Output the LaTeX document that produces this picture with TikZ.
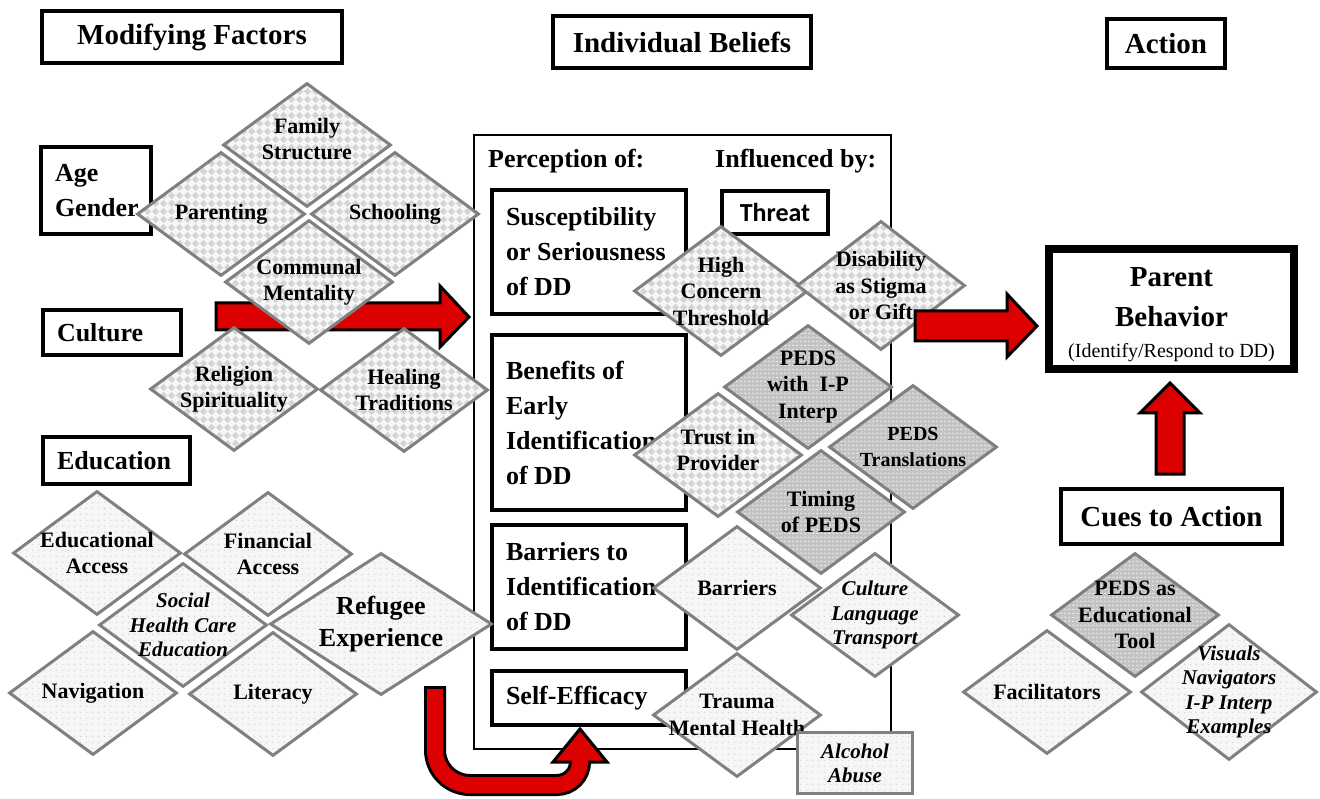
\documentclass[tikz,border=0pt]{standalone}
\usepackage{fontspec}
\setmainfont{Liberation Serif}
\newfontfamily\calfont{Carlito}
\usetikzlibrary{shapes.geometric,patterns.meta}

\definecolor{arrred}{RGB}{221,0,0}
\definecolor{chkfg}{RGB}{212,212,212}
\definecolor{chkbg}{RGB}{246,246,246}
\definecolor{dotbg}{RGB}{246,246,246}
\definecolor{darkbg}{RGB}{195,195,195}

\tikzdeclarepattern{
  name=checkgray, type=colored,
  bottom left={(0pt,0pt)}, top right={(8pt,8pt)},
  tile size={(8pt,8pt)},
  code={
    \fill[chkbg] (0pt,0pt) rectangle (8pt,8pt);
    \fill[chkfg] (4pt,0pt) -- (8pt,4pt) -- (4pt,8pt) -- (0pt,4pt) -- cycle;
  }
}
\tikzdeclarepattern{
  name=dotlight, type=colored,
  bottom left={(0pt,0pt)}, top right={(6pt,6pt)},
  tile size={(6pt,6pt)},
  code={
    \fill[dotbg] (0pt,0pt) rectangle (6pt,6pt);
    \fill[gray!35] (3pt,3pt) circle[radius=0.8pt];
  }
}
\tikzdeclarepattern{
  name=dotdark, type=colored,
  bottom left={(0pt,0pt)}, top right={(4pt,4pt)},
  tile size={(4pt,4pt)},
  code={
    \fill[darkbg] (0pt,0pt) rectangle (4pt,4pt);
    \fill[white!85!gray] (0.5pt,1.5pt) rectangle (2.7pt,2.6pt);
  }
}

\tikzset{
  hbox/.style={draw, line width=4pt, inner sep=0pt, font=\fontsize{29}{33}\selectfont\bfseries},
  lbox/.style={draw, line width=4pt, inner xsep=14pt, inner ysep=0pt, align=flush left, font=\fontsize{26}{35}\selectfont\bfseries},
  dia/.style={diamond, draw=gray, line width=3pt, minimum width=168pt, minimum height=124pt, inner sep=0pt},
  dchk/.style={dia, preaction={fill=chkbg}, pattern=checkgray},
  ddot/.style={dia, preaction={fill=dotbg}, pattern=dotlight},
  ddark/.style={dia, preaction={fill=darkbg}, pattern=dotdark},
  dtxt/.style={align=center, font=\fontsize{22}{26.5}\selectfont\bfseries},
  ditx/.style={align=center, font=\fontsize{21}{24.5}\selectfont\bfseries\itshape},
  dbig/.style={align=center, font=\fontsize{26}{32}\selectfont\bfseries},
  redarrow/.style={fill=arrred, draw=black, line width=3pt, line join=miter},
}

\begin{document}
\begin{tikzpicture}[x=1pt, y=-1pt]
\useasboundingbox (0,0) rectangle (1320,799);

% headings
\node[hbox, minimum width=300pt, minimum height=52pt] (hMod) at (192,37) {Modifying Factors};
\node[hbox, minimum width=258pt, minimum height=52pt] (hInd) at (682,42) {Individual Beliefs};
\node[hbox, minimum width=118pt, minimum height=49pt] (hAct) at (1166,43.5) {Action};

% modifying factors
\node[lbox, text width=82pt, minimum height=87pt] (age) at (96,190.5) {Age\\Gender};
\node[lbox, text width=110pt, minimum height=45pt] (cult) at (112,332.5) {Culture};
\node[lbox, text width=119pt, minimum height=47pt] (edu) at (116.5,460.5) {Education};

% individual beliefs
\node[draw, line width=2.5pt, minimum width=417pt, minimum height=614pt] (indiv) at (682.5,442) {};
\node[anchor=base west, inner sep=0pt, font=\fontsize{26}{30}\selectfont\bfseries] (perc) at (488,168) {Perception of:};
\node[anchor=base west, inner sep=0pt, font=\fontsize{26}{30}\selectfont\bfseries] (infl) at (715,168) {Influenced by:};
\node[lbox, text width=166pt, minimum height=124pt] (sus) at (589,252) {Susceptibility\\or Seriousness\\of DD};
\node[lbox, text width=166pt, minimum height=175pt] (ben) at (589,422.5) {Benefits of\\Early\\Identification\\of DD};
\node[lbox, text width=166pt, minimum height=124pt] (bar) at (589,587) {Barriers to\\Identification\\of DD};
\node[lbox, text width=166pt, minimum height=54pt] (self) at (589,698) {Self-Efficacy};
\node[draw, line width=4pt, minimum width=106pt, minimum height=43pt, inner sep=0pt,
      font=\calfont\fontsize{26}{30}\selectfont\bfseries] (threat) at (775,212.5) {Threat};

% culture arrow
\filldraw[redarrow] (216,303) -- (440,303) -- (440,286) -- (469,317) -- (440,347) -- (440,330) -- (216,330) -- cycle;

\node[dchk, label={[dtxt, yshift=6pt]center:{Family\\Structure}}] (fam) at (307,145) {};
\node[dchk, label={[dtxt]center:{Parenting}}] (par) at (221,214) {};
\node[dchk, label={[dtxt]center:{Schooling}}] (sch) at (395,214) {};
\node[dchk, label={[dtxt]center:{Communal\\Mentality}}] (com) at (309,282) {};
\node[dchk, label={[dtxt]center:{Religion\\Spirituality}}] (rel) at (234,389) {};
\node[dchk, label={[dtxt]center:{Healing\\Traditions}}] (heal) at (404,390) {};

\node[ddot, label={[dtxt]center:{Educational\\Access}}] (eduAcc) at (97,553) {};
\node[ddot, label={[dtxt]center:{Financial\\Access}}] (finAcc) at (268,554) {};
\node[ddot, label={[ditx]center:{Social\\Health Care\\Education}}] (shc) at (183,625) {};
\node[ddot, label={[dtxt]center:{Navigation}}] (nav) at (93,693) {};
\node[ddot, label={[dtxt]center:{Literacy}}] (lit) at (273,694) {};
\node[ddot, minimum width=222pt, minimum height=142pt, label={[dbig]center:{Refugee\\Experience}}] (refu) at (381,624) {};

% influences
\node[dchk, minimum width=174pt, minimum height=130pt, label={[dtxt]center:{High\\Concern\\Threshold}}] (high) at (721,291) {};
\node[dchk, minimum height=129pt, label={[dtxt]center:{Disability\\as Stigma\\or Gift}}] (disab) at (881,285.5) {};
\node[ddark, label={[dtxt]center:{PEDS\\with\ \ I-P\\Interp}}] (pedsIP) at (808,387) {};
\node[dchk, label={[dtxt, yshift=5pt]center:{Trust in\\Provider}}] (trust) at (718,455) {};
\node[ddark, label={[dtxt, font=\fontsize{20}{26}\selectfont\bfseries]center:{PEDS\\Translations}}] (pedsTr) at (913,447) {};
\node[ddark, label={[dtxt]center:{Timing\\of PEDS}}] (timing) at (821,512) {};
\node[ddot, label={[dtxt]center:{Barriers}}] (barr) at (737,588) {};
\node[ddot, label={[ditx]center:{Culture\\Language\\Transport}}] (clt) at (875,615) {};
\node[ddot, label={[dtxt]center:{Trauma\\Mental Health}}] (trauma) at (737,715) {};
\node[draw=gray, line width=3pt, preaction={fill=dotbg}, pattern=dotlight, minimum width=115pt, minimum height=61pt, inner sep=0pt,
      align=center, font=\fontsize{21}{24}\selectfont\bfseries\itshape] (alc) at (855,763) {Alcohol\\Abuse};

% action
\filldraw[redarrow] (915,311) -- (1007,311) -- (1007,294) -- (1037,326) -- (1007,357) -- (1007,341) -- (915,341) -- cycle;
\node[draw, line width=8pt, minimum width=245pt, minimum height=120pt] (parent) at (1171.5,309) {};
\node[align=center, inner sep=0pt, font=\fontsize{29}{40}\selectfont\bfseries] (parentTxt) at (1171.5,315)
  {Parent\\Behavior\\[-9pt]{\fontsize{20}{24}\selectfont\mdseries (Identify/Respond to DD)}};
\filldraw[redarrow] (1156,474) -- (1156,413) -- (1140,413) -- (1170,383) -- (1200,413) -- (1184,413) -- (1184,474) -- cycle;
\node[hbox, minimum width=221pt, minimum height=55pt] (cues) at (1171.5,516.5) {Cues to Action};

\node[ddot, label={[dtxt]center:{Facilitators}}] (facil) at (1047,692) {};
\node[ddot, minimum width=176pt, minimum height=136pt, label={[ditx]center:{Visuals\\Navigators\\I-P Interp\\Examples}}] (visu) at (1229,692) {};
\node[ddark, label={[dtxt]center:{PEDS as\\Educational\\Tool}}] (tool) at (1135,615) {};

% refugee experience to self-efficacy
\draw[line width=22pt] (435,686) -- (435,750) arc[start angle=180, end angle=90, radius=35]
  -- (557,785) arc[start angle=90, end angle=0, radius=23] -- (580,764);
\filldraw[redarrow] (553,762) -- (580,729) -- (607,762) -- cycle;
\draw[line width=16pt, arrred] (435,689) -- (435,750) arc[start angle=180, end angle=90, radius=35]
  -- (557,785) arc[start angle=90, end angle=0, radius=23] -- (580,758);
\end{tikzpicture}
\end{document}
